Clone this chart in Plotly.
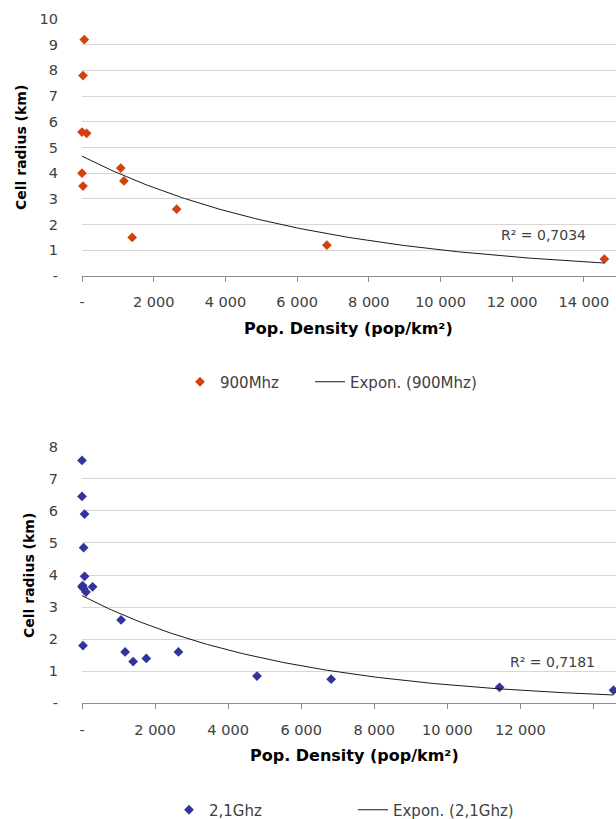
import numpy as np
import plotly.graph_objects as go

# 900 MHz measurements
density_900 = [64, 28, 0, 130, 0, 28, 1080, 1170, 1400, 2640, 6830, 14570]
radius_900 = [9.2, 7.8, 5.6, 5.55, 4.0, 3.5, 4.2, 3.7, 1.5, 2.6, 1.2, 0.66]

# 2.1 GHz measurements
density_2100 = [0, 0, 70, 45, 70, 0, 17, 45, 110, 290, 1070, 1180, 1400, 1760,
                2640, 4790, 27, 6820, 11430, 14550]
radius_2100 = [7.57, 6.45, 5.9, 4.85, 3.96, 3.63, 3.67, 3.58, 3.47, 3.63, 2.6,
               1.6, 1.3, 1.4, 1.6, 0.85, 1.8, 0.75, 0.5, 0.41]

r2_900 = "R² = 0,7034"
r2_2100 = "R² = 0,7181"

x_tickvals = [0, 2000, 4000, 6000, 8000, 10000, 12000, 14000]
x_ticktext = ["-", "2 000", "4 000", "6 000", "8 000", "10 000", "12 000", "14 000"]
y1_tickvals = list(range(0, 11))
y2_tickvals = list(range(0, 9))

W, H = 616, 819
GREY_TXT = "#404040"
TICK_FONT = dict(family="DejaVu Sans", size=14.5, color=GREY_TXT)
LEG_FONT = dict(family="DejaVu Sans", size=15, color=GREY_TXT)


def px(x):
    return x / W


def py(y):
    return 1 - y / H


def expon_fit(x, y):
    # same as Excel's exponential trendline: linear fit on ln(y)
    x = np.array(x, dtype=float)
    y = np.array(y, dtype=float)
    b, ln_a = np.polyfit(x, np.log(y), 1)
    xs = np.linspace(x.min(), x.max(), 200)
    return xs, np.exp(ln_a) * np.exp(b * xs)


fig = go.Figure()

fig.add_trace(go.Scatter(
    x=density_900, y=radius_900, mode="markers", name="900Mhz",
    marker=dict(symbol="diamond", size=7.5, color="#D2410E"), cliponaxis=False,
    xaxis="x", yaxis="y", legend="legend"))
tx, ty = expon_fit(density_900, radius_900)
fig.add_trace(go.Scatter(
    x=tx, y=ty, mode="lines", name="Expon. (900Mhz)",
    line=dict(color="#1a1a1a", width=1),
    xaxis="x", yaxis="y", legend="legend2"))

fig.add_trace(go.Scatter(
    x=density_2100, y=radius_2100, mode="markers", name="2,1Ghz",
    marker=dict(symbol="diamond", size=7.5, color="#333399"), cliponaxis=False,
    xaxis="x2", yaxis="y2", legend="legend3"))
tx, ty = expon_fit(density_2100, radius_2100)
fig.add_trace(go.Scatter(
    x=tx, y=ty, mode="lines", name="Expon. (2,1Ghz)",
    line=dict(color="#1a1a1a", width=1),
    xaxis="x2", yaxis="y2", legend="legend4"))

xdom = [px(82), 1]
xaxis_style = dict(
    tickvals=x_tickvals, ticktext=x_ticktext, tickfont=TICK_FONT,
    showgrid=False, zeroline=False, showline=True, linecolor="#8c8c8c",
    linewidth=1, ticks="outside", ticklen=5, tickcolor="#8c8c8c",
    ticklabelstandoff=8, domain=xdom,
)
yaxis_style = dict(
    tickfont=TICK_FONT, showgrid=True, gridcolor="#d6d6d6", gridwidth=1.2,
    zeroline=False, showline=False, ticks="", ticklabelstandoff=23,
)


def legend_at(x, y):
    # x is where plotly puts the legend box; the symbol sits ~21px to the right
    return dict(orientation="h", x=px(x - 21), xanchor="left", y=py(y),
                yanchor="middle", font=LEG_FONT, bgcolor="rgba(0,0,0,0)")


fig.update_layout(
    width=W, height=H,
    margin=dict(l=0, r=0, t=0, b=0, autoexpand=False),
    paper_bgcolor="white", plot_bgcolor="white",
    showlegend=True,
    xaxis=dict(xaxis_style, range=[0, 14895], anchor="y"),
    yaxis=dict(yaxis_style, range=[0, 10], tickvals=y1_tickvals,
               ticktext=["-"] + [str(v) for v in y1_tickvals[1:]],
               domain=[py(276), py(19)], anchor="x"),
    xaxis2=dict(xaxis_style, range=[0, 14618], anchor="y2"),
    yaxis2=dict(yaxis_style, range=[0, 8], tickvals=y2_tickvals,
                ticktext=["-"] + [str(v) for v in y2_tickvals[1:]],
                domain=[py(703.3), py(446.7)], anchor="x2"),
    legend=legend_at(201, 382),
    legend2=legend_at(331, 382),
    legend3=legend_at(190, 810),
    legend4=legend_at(374, 810),
)

title_font = dict(family="DejaVu Sans", size=16, color="black")
ytitle_font = dict(family="DejaVu Sans", size=14, color="black")
annos = [
    dict(text="<b>Pop. Density (pop/km²)</b>", x=px(348), y=py(328), font=title_font),
    dict(text="<b>Pop. Density (pop/km²)</b>", x=px(354), y=py(755), font=title_font),
    dict(text="<b>Cell radius (km)</b>", x=px(21), y=py(148), textangle=-90, font=ytitle_font),
    dict(text="<b>Cell radius (km)</b>", x=px(29), y=py(576), textangle=-90, font=ytitle_font),
    dict(text=r2_900, x=px(543), y=py(235), font=dict(family="DejaVu Sans", size=14, color=GREY_TXT)),
    dict(text=r2_2100, x=px(552), y=py(662), font=dict(family="DejaVu Sans", size=14, color=GREY_TXT)),
]
for a in annos:
    fig.add_annotation(xref="paper", yref="paper", showarrow=False,
                       xanchor="center", yanchor="middle", **a)

# drop the default body margin so the figure fills the window exactly
fig.write_html("out.html", config={"displayModeBar": False},
               post_script="document.body.style.margin='0';document.body.style.overflow='hidden';")
